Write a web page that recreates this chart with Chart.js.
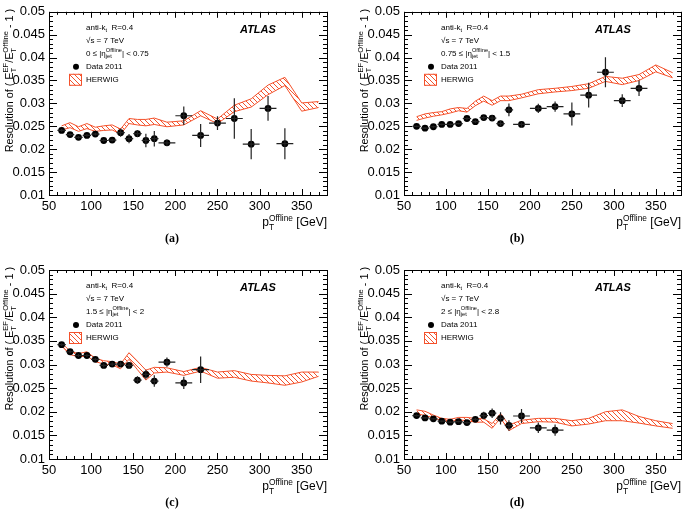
<!DOCTYPE html>
<html>
<head>
<meta charset="utf-8">
<script src="https://cdn.jsdelivr.net/npm/chart.js@4.4.0/dist/chart.umd.min.js"></script>
<style>
body { margin: 0; background: #fff; width: 685px; height: 509px; position: relative; overflow: hidden; }
canvas { position: absolute; }
</style>
</head>
<body>
<canvas id="pa" style="left:0;top:0"></canvas>
<canvas id="pb" style="left:345px;top:0"></canvas>
<canvas id="pc" style="left:0;top:254px"></canvas>
<canvas id="pd" style="left:345px;top:254px"></canvas>
<script>
// bin centres and half widths of the data points (GeV)
const ptBins = [65, 75, 85, 95, 105, 115, 125, 135, 145, 155, 165, 175, 190, 210, 230, 250, 270, 290, 310, 330];
const ptHalfWidth = [5, 5, 5, 5, 5, 5, 5, 5, 5, 5, 5, 5, 10, 10, 10, 10, 10, 10, 10, 10];
// HERWIG band points
const bandPt = [65, 75, 85, 95, 105, 115, 125, 135, 145, 155, 165, 175, 190, 210, 230, 250, 270, 290, 310, 330, 350, 370];

// (a) 0 <= |eta| < 0.75
const resA = [0.0241, 0.0232, 0.0226, 0.0230, 0.0233, 0.0219, 0.0220, 0.0236, 0.0223, 0.0234, 0.0219, 0.0223, 0.0214, 0.0273, 0.0230, 0.0257, 0.0267, 0.0211, 0.0289, 0.0212];
const errA = [0.0003, 0.0003, 0.0003, 0.0003, 0.0003, 0.0003, 0.0003, 0.0009, 0.0010, 0.0008, 0.0015, 0.0017, 0.0007, 0.0020, 0.0025, 0.0015, 0.0044, 0.0033, 0.0027, 0.0034];
const herwigHiA = [0.0251, 0.0258, 0.0249, 0.0256, 0.0248, 0.0251, 0.0253, 0.0244, 0.0267, 0.0265, 0.0265, 0.0268, 0.0259, 0.0262, 0.0284, 0.0266, 0.0296, 0.0310, 0.0340, 0.0357, 0.0301, 0.0304];
const herwigLoA = [0.0242, 0.0247, 0.0239, 0.0245, 0.0239, 0.0241, 0.0242, 0.0233, 0.0256, 0.0253, 0.0251, 0.0254, 0.0249, 0.0253, 0.0273, 0.0256, 0.0282, 0.0292, 0.0319, 0.0339, 0.0283, 0.0291];

// (b) 0.75 <= |eta| < 1.5
const resB = [0.0250, 0.0246, 0.0249, 0.0254, 0.0254, 0.0256, 0.0267, 0.0260, 0.0269, 0.0268, 0.0256, 0.0286, 0.0254, 0.0289, 0.0293, 0.0277, 0.0318, 0.0368, 0.0306, 0.0333];
const errB = [0.0002, 0.0002, 0.0002, 0.0002, 0.0002, 0.0002, 0.0003, 0.0003, 0.0004, 0.0006, 0.0006, 0.0014, 0.0005, 0.0010, 0.0011, 0.0025, 0.0027, 0.0033, 0.0014, 0.0017];
const herwigHiB = [0.0271, 0.0277, 0.0280, 0.0282, 0.0288, 0.0291, 0.0289, 0.0305, 0.0316, 0.0306, 0.0316, 0.0316, 0.0320, 0.0330, 0.0333, 0.0337, 0.0343, 0.0359, 0.0355, 0.0363, 0.0384, 0.0367];
const herwigLoB = [0.0263, 0.0268, 0.0272, 0.0275, 0.0279, 0.0284, 0.0281, 0.0295, 0.0305, 0.0296, 0.0306, 0.0306, 0.0312, 0.0321, 0.0325, 0.0328, 0.0333, 0.0348, 0.0341, 0.0350, 0.0369, 0.0356];

// (c) 1.5 <= |eta| < 2
const resC = [0.0342, 0.0327, 0.0319, 0.0319, 0.0311, 0.0298, 0.0301, 0.0301, 0.0298, 0.0267, 0.0279, 0.0265, 0.0305, 0.0261, 0.0289];
const errC = [0.0003, 0.0003, 0.0003, 0.0003, 0.0003, 0.0004, 0.0004, 0.0005, 0.0006, 0.0008, 0.0010, 0.0012, 0.0010, 0.0013, 0.0028];
const herwigHiC = [0.0346, 0.0328, 0.0323, 0.0327, 0.0313, 0.0308, 0.0306, 0.0301, 0.0325, 0.0307, 0.0288, 0.0294, 0.0293, 0.0285, 0.0294, 0.0284, 0.0287, 0.0279, 0.0277, 0.0276, 0.0284, 0.0284];
const herwigLoC = [0.0339, 0.0321, 0.0316, 0.0318, 0.0306, 0.0301, 0.0299, 0.0291, 0.0311, 0.0289, 0.0267, 0.0282, 0.0284, 0.0277, 0.0286, 0.0271, 0.0273, 0.0265, 0.0261, 0.0256, 0.0263, 0.0275];

// (d) 2 <= |eta| < 2.8
const resD = [0.0192, 0.0187, 0.0185, 0.0180, 0.0178, 0.0179, 0.0177, 0.0184, 0.0192, 0.0197, 0.0186, 0.0171, 0.0191, 0.0166, 0.0161];
const errD = [0.0002, 0.0002, 0.0002, 0.0002, 0.0002, 0.0002, 0.0003, 0.0003, 0.0008, 0.0010, 0.0013, 0.0011, 0.0015, 0.0011, 0.0012];
const herwigHiD = [0.0204, 0.0201, 0.0193, 0.0186, 0.0184, 0.0188, 0.0188, 0.0186, 0.0185, 0.0175, 0.0196, 0.0172, 0.0182, 0.0186, 0.0186, 0.0181, 0.0186, 0.0200, 0.0204, 0.0190, 0.0181, 0.0175];
const herwigLoD = [0.0196, 0.0192, 0.0187, 0.0181, 0.0179, 0.0183, 0.0181, 0.0178, 0.0178, 0.0165, 0.0187, 0.0160, 0.0175, 0.0179, 0.0178, 0.0170, 0.0174, 0.0181, 0.0181, 0.0176, 0.0170, 0.0165];

const etaLabels = ['0 ≤ |η', '0.75 ≤ |η', '1.5 ≤ |η', '2 ≤ |η'];
const etaUpper = ['| < 0.75', '| < 1.5', '| < 2', '| < 2.8'];
const captions = ['(a)', '(b)', '(c)', '(d)'];

const herwigColor = '#f4522c';
const SANS = '"Liberation Sans", Arial, sans-serif';
Chart.defaults.font.family = SANS;
Chart.defaults.color = '#000';

function hatchTile() {
    const c = document.createElement('canvas');
    c.width = 5; c.height = 5;
    const g = c.getContext('2d');
    g.strokeStyle = herwigColor;
    g.lineWidth = 1;
    g.beginPath();
    g.moveTo(0, 0); g.lineTo(5, 5);
    g.moveTo(-1, 4); g.lineTo(1, 6);
    g.moveTo(4, -1); g.lineTo(6, 1);
    g.stroke();
    return c;
}

// text with stacked sub/superscripts; parts = [{t, sub, sup}]
function richWidth(ctx, parts, size) {
    let w = 0;
    parts.forEach(p => {
        ctx.font = size + 'px ' + SANS;
        w += ctx.measureText(p.t).width;
        ctx.font = (size * 0.7) + 'px ' + SANS;
        w += Math.max(p.sub ? ctx.measureText(p.sub).width : 0, p.sup ? ctx.measureText(p.sup).width : 0);
    });
    return w;
}
function drawRich(ctx, x, y, parts, size) {
    parts.forEach(p => {
        ctx.font = size + 'px ' + SANS;
        ctx.fillText(p.t, x, y);
        x += ctx.measureText(p.t).width;
        ctx.font = (size * 0.7) + 'px ' + SANS;
        let sw = 0;
        if (p.sub) { ctx.fillText(p.sub, x, y + size * 0.3); sw = ctx.measureText(p.sub).width; }
        if (p.sup) { ctx.fillText(p.sup, x, y - size * 0.45); sw = Math.max(sw, ctx.measureText(p.sup).width); }
        x += sw;
    });
}

const framePlugin = {
    id: 'frame',
    afterDraw(chart) {
        const { ctx, chartArea: a, scales: { x, y } } = chart;
        ctx.save();
        ctx.strokeStyle = '#000';
        ctx.lineWidth = 1;
        ctx.beginPath();
        for (let i = 0; i <= 40; i++) {
            const p = Math.round(y.getPixelForValue(0.01 + i * 0.001)) + 0.5;
            const len = i % 5 === 0 ? 8 : 4;
            ctx.moveTo(a.left, p); ctx.lineTo(a.left + len, p);
            ctx.moveTo(a.right, p); ctx.lineTo(a.right - len, p);
        }
        for (let v = 50; v <= 380; v += 10) {
            const p = Math.round(x.getPixelForValue(v)) + 0.5;
            const len = v % 50 === 0 ? 6 : 3;
            ctx.moveTo(p, a.bottom); ctx.lineTo(p, a.bottom - len);
            ctx.moveTo(p, a.top); ctx.lineTo(p, a.top + len);
        }
        ctx.stroke();
        ctx.strokeRect(Math.round(a.left) + 0.5, Math.round(a.top) + 0.5, Math.round(a.right - a.left), Math.round(a.bottom - a.top));
        ctx.restore();
    }
};

const errPlugin = {
    id: 'errbars',
    afterDatasetsDraw(chart) {
        const { ctx, scales: { x, y } } = chart;
        const ds = chart.data.datasets[2];
        ctx.save();
        ctx.strokeStyle = '#222';
        ctx.lineWidth = 1.2;
        ctx.beginPath();
        ds.data.forEach((d, i) => {
            const px = x.getPixelForValue(d.x), py = y.getPixelForValue(d.y);
            ctx.moveTo(x.getPixelForValue(d.x - ds.xErr[i]), py);
            ctx.lineTo(x.getPixelForValue(d.x + ds.xErr[i]), py);
            ctx.moveTo(px, y.getPixelForValue(d.y - ds.yErr[i]));
            ctx.lineTo(px, y.getPixelForValue(d.y + ds.yErr[i]));
        });
        ctx.stroke();
        ctx.restore();
    }
};

function textPlugin(k, pattern, capY) {
    return {
        id: 'texts',
        afterDraw(chart) {
            const { ctx, chartArea: a } = chart;
            const l = a.left, t = a.top;
            ctx.save();
            ctx.fillStyle = '#000';
            ctx.textBaseline = 'middle';
            ctx.textAlign = 'left';
            drawRich(ctx, l + 37, t + 16, [{ t: 'anti-k', sub: 't' }, { t: '  R=0.4' }], 8);
            drawRich(ctx, l + 37, t + 29, [{ t: '√s = 7 TeV' }], 8);
            drawRich(ctx, l + 37, t + 42, [{ t: etaLabels[k], sub: 'jet', sup: 'Offline' }, { t: etaUpper[k] }], 8);
            ctx.beginPath();
            ctx.arc(l + 27, t + 55, 3, 0, Math.PI * 2);
            ctx.fill();
            drawRich(ctx, l + 37, t + 55, [{ t: 'Data 2011' }], 8);
            ctx.fillStyle = pattern;
            ctx.fillRect(l + 20, t + 62, 13, 12);
            ctx.strokeStyle = herwigColor;
            ctx.lineWidth = 1;
            ctx.strokeRect(l + 20.5, t + 62.5, 12, 11);
            ctx.fillStyle = '#000';
            drawRich(ctx, l + 37, t + 68, [{ t: 'HERWIG' }], 8);
            ctx.font = 'italic bold 11px ' + SANS;
            ctx.fillText('ATLAS', l + 191, t + 18);

            // axis titles
            ctx.textBaseline = 'alphabetic';
            const xt = [{ t: 'p', sub: 'T', sup: 'Offline' }, { t: ' [GeV]' }];
            drawRich(ctx, a.right - richWidth(ctx, xt, 12), a.bottom + 31, xt, 12);
            const yt = [{ t: 'Resolution of ( E', sub: 'T', sup: 'EF' }, { t: '/E', sub: 'T', sup: 'Offline' }, { t: ' - 1 )' }];
            const yw = richWidth(ctx, yt, 10.8);
            ctx.save();
            ctx.translate(l - 36, t - 3 + yw);
            ctx.rotate(-Math.PI / 2);
            drawRich(ctx, 0, 0, yt, 10.8);
            ctx.restore();

            ctx.font = 'bold 12px "Liberation Serif", serif';
            ctx.textAlign = 'center';
            ctx.textBaseline = 'middle';
            ctx.fillText(captions[k], 172, capY);
            ctx.restore();
        }
    };
}

function makePanel(k, id, w, h, area, res, err, hi, lo, capY) {
    const cv = document.getElementById(id);
    cv.width = w; cv.height = h;
    cv.style.width = w + 'px'; cv.style.height = h + 'px';
    const ctx = cv.getContext('2d');
    const pattern = ctx.createPattern(hatchTile(), 'repeat');
    new Chart(ctx, {
        type: 'scatter',
        data: {
            datasets: [
                { type: 'line', data: bandPt.map((x, i) => ({ x, y: hi[i] })), borderColor: herwigColor, borderWidth: 1,
                  pointRadius: 0, fill: '+1', backgroundColor: pattern, tension: 0, order: 2 },
                { type: 'line', data: bandPt.map((x, i) => ({ x, y: lo[i] })), borderColor: herwigColor, borderWidth: 1,
                  pointRadius: 0, fill: false, tension: 0, order: 2 },
                { data: res.map((y, i) => ({ x: ptBins[i], y })), xErr: ptHalfWidth, yErr: err,
                  pointRadius: 3.4, backgroundColor: '#000', borderWidth: 0, order: 1 }
            ]
        },
        options: {
            responsive: false,
            animation: false,
            devicePixelRatio: 1,
            layout: { padding: { left: 0, top: area.t, right: w - area.r, bottom: 0 } },
            plugins: { legend: { display: false }, tooltip: { enabled: false } },
            scales: {
                x: {
                    type: 'linear', min: 50, max: 380,
                    afterFit: s => { s.height = h - area.b; },
                    grid: { display: false, drawTicks: false }, border: { display: false },
                    ticks: { stepSize: 50, includeBounds: false, padding: 4, maxRotation: 0, font: { size: 13 },
                             callback: v => (v % 50 === 0 ? String(v) : '') }
                },
                y: {
                    type: 'linear', min: 0.01, max: 0.05,
                    afterFit: s => { s.width = area.l; },
                    grid: { display: false, drawTicks: false }, border: { display: false },
                    ticks: { stepSize: 0.005, padding: 4, font: { size: 13 }, callback: v => String(+v.toFixed(3)) }
                }
            }
        },
        plugins: [framePlugin, errPlugin, textPlugin(k, pattern, capY)]
    });
}

makePanel(0, 'pa', 345, 254, { l: 49, t: 8, r: 327, b: 195 }, resA, errA, herwigHiA, herwigLoA, 239);
makePanel(1, 'pb', 340, 254, { l: 59, t: 8, r: 338, b: 195 }, resB, errB, herwigHiB, herwigLoB, 239);
makePanel(2, 'pc', 345, 255, { l: 49, t: 16, r: 327, b: 205 }, resC, errC, herwigHiC, herwigLoC, 249);
makePanel(3, 'pd', 340, 255, { l: 59, t: 16, r: 338, b: 205 }, resD, errD, herwigHiD, herwigLoD, 249);
</script>
</body>
</html>
